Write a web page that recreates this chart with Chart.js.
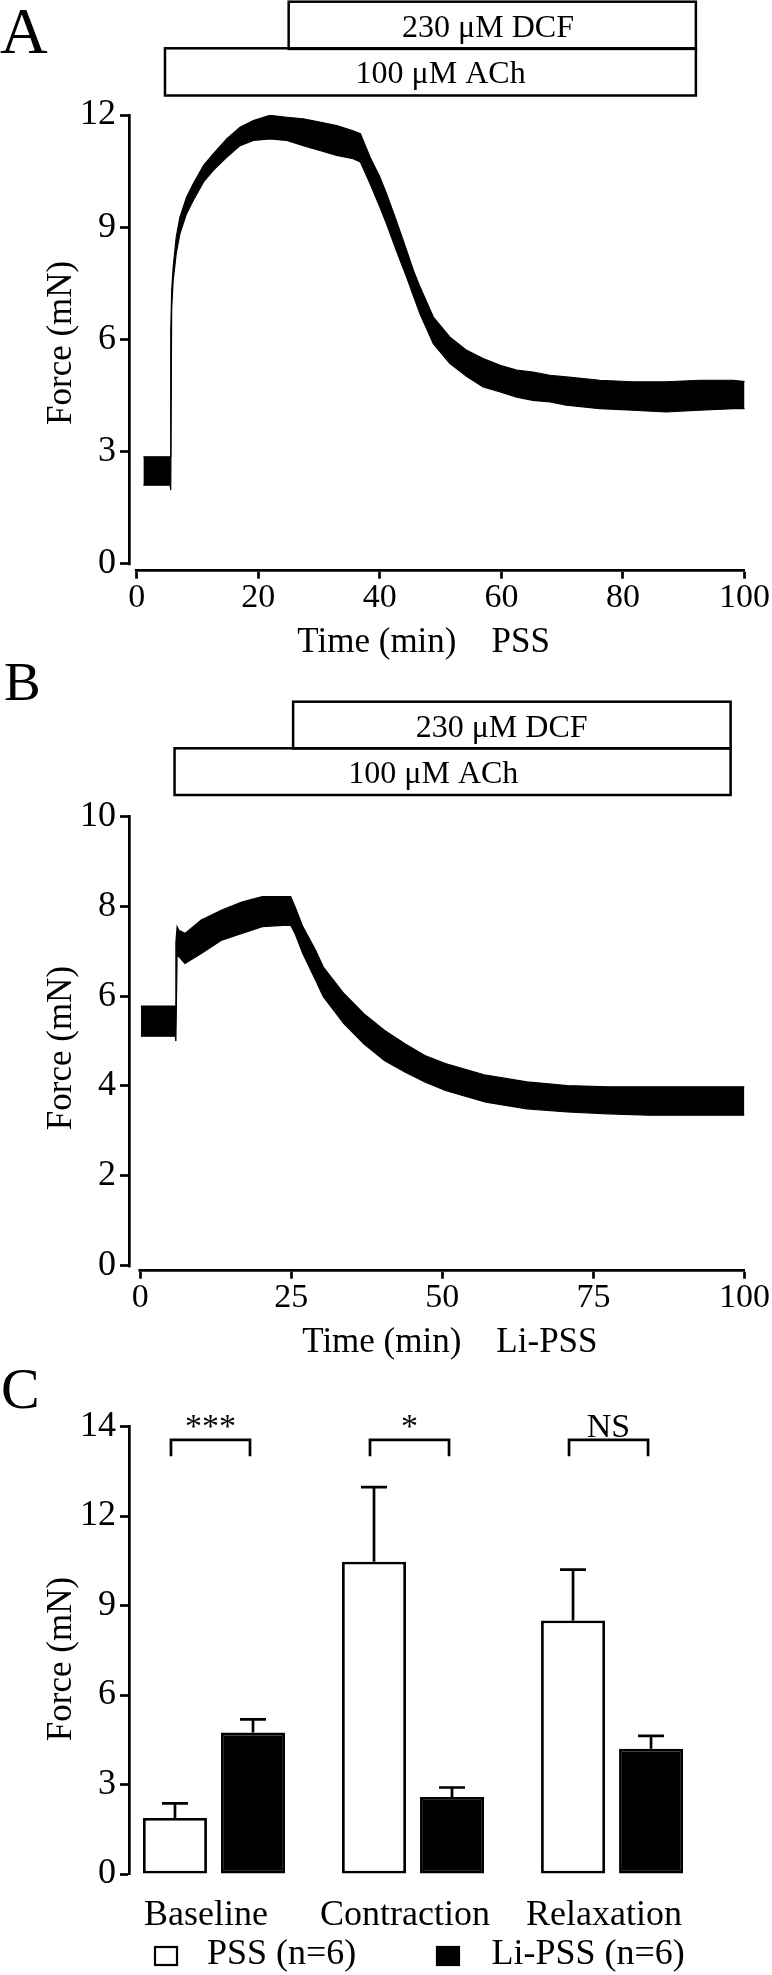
<!DOCTYPE html>
<html>
<head>
<meta charset="utf-8">
<script src="https://cdn.jsdelivr.net/npm/chart.js@4.4.1/dist/chart.umd.min.js"></script>
<style>
  body { margin: 0; background: #fff; width: 772px; height: 1975px; overflow: hidden; }
  .panel { position: absolute; left: 0; width: 772px; }
  #wrapA { top: 0; height: 660px; }
  #wrapB { top: 660px; height: 700px; }
  #wrapC { top: 1360px; height: 615px; }
</style>
</head>
<body>
<div class="panel" id="wrapA"><canvas id="chartA"></canvas></div>
<div class="panel" id="wrapB"><canvas id="chartB"></canvas></div>
<div class="panel" id="wrapC"><canvas id="chartC"></canvas></div>
<script>
'use strict';

// panel A, PSS trace (band: upper and lower edge)
var timeA  = [1.1, 5.5, 5.6, 5.75, 6.0, 6.5, 7.1, 8.2, 9.3, 11.0, 12.6, 14.8, 17.0, 19.2, 21.9, 24.7, 27.4, 30.1, 32.9, 35.6, 36.8, 38.4, 40.0, 41.1, 42.7, 44.4, 45.5, 46.6, 48.8, 51.5, 54.3, 57.0, 59.8, 62.5, 65.2, 68.0, 70.7, 76.2, 81.6, 87.1, 92.6, 98.1, 100.3]
var upperA = [2.85, 2.85, 6.2, 7.3, 7.93, 8.73, 9.26, 9.80, 10.16, 10.65, 10.96, 11.36, 11.67, 11.85, 11.99, 11.94, 11.90, 11.81, 11.72, 11.58, 11.50, 10.87, 10.34, 9.89, 9.18, 8.38, 7.85, 7.40, 6.59, 6.06, 5.70, 5.48, 5.30, 5.17, 5.12, 5.03, 4.99, 4.90, 4.86, 4.86, 4.90, 4.90, 4.86]
var lowerA = [2.09, 2.09, 1.96, 6.8, 7.57, 8.29, 8.82, 9.36, 9.71, 10.21, 10.52, 10.87, 11.18, 11.32, 11.36, 11.32, 11.18, 11.05, 10.92, 10.83, 10.74, 10.16, 9.54, 9.09, 8.38, 7.66, 7.17, 6.68, 5.88, 5.35, 5.00, 4.72, 4.59, 4.45, 4.36, 4.32, 4.23, 4.14, 4.10, 4.05, 4.10, 4.14, 4.14]
var xTicksA = [0, 20, 40, 60, 80, 100]
var yTicksA = [0, 3, 6, 9, 12]

// panel B, Li-PSS trace
var timeB  = [0.1, 5.8, 5.9, 6.1, 6.4, 7.4, 10.1, 13.5, 16.8, 20.2, 23.6, 24.9, 25.6, 26.9, 29.0, 30.3, 33.7, 37.0, 40.4, 43.8, 47.1, 50.5, 57.2, 64.0, 70.7, 77.4, 84.2, 90.9, 100]
var upperB = [5.78, 5.78, 7.2, 7.55, 7.47, 7.40, 7.70, 7.92, 8.10, 8.22, 8.22, 8.22, 8.00, 7.55, 7.03, 6.65, 6.06, 5.61, 5.24, 4.94, 4.68, 4.50, 4.24, 4.09, 4.01, 3.98, 3.98, 3.98, 3.98]
var lowerB = [5.11, 5.11, 5.0, 6.9, 6.88, 6.73, 6.95, 7.25, 7.40, 7.55, 7.58, 7.58, 7.40, 6.95, 6.36, 5.99, 5.39, 4.94, 4.57, 4.31, 4.09, 3.90, 3.64, 3.49, 3.42, 3.38, 3.35, 3.35, 3.35]
var xTicksB = [0, 25, 50, 75, 100]
var yTicksB = [0, 2, 4, 6, 8, 10]

// drug application bars (minutes)
var treatLabels = ['230 μM DCF', '100 μM ACh']
var treatStartA = [25.0, 4.65]
var treatEndA   = [92.0, 92.0]
var treatTextA  = [57.8, 50.0]
var treatStartB = [25.3, 5.68]
var treatEndB   = [97.7, 97.7]
var treatTextB  = [59.8, 48.5]

// panel C, summary bars
var categories = ['Baseline', 'Contraction', 'Relaxation']
var pssMean = [1.88, 10.47, 8.50]
var pssSem  = [0.49, 2.50, 1.70]
var liMean  = [4.74, 2.58, 4.20]
var liSem   = [0.44, 0.32, 0.43]
var sigLabels = ['***', '*', 'NS']
var yTicksC = [0, 3, 6, 9, 12, 15]
var yTickLabelsC = ['0', '3', '6', '9', '12', '14']

Chart.defaults.font.family = '"Liberation Serif", "Times New Roman", serif'
Chart.defaults.color = '#000'

var SERIF = '"Liberation Serif", "Times New Roman", serif'
var AXIS_W = 2.7

// panel letter + treatment boxes above the plot, and the gap between the two axes
var panelDecor = {
    id: 'panelDecor',
    afterDraw: function(chart, args, opts) {
        let ctx = chart.ctx
        let x = chart.scales.x
        let y = chart.scales.y
        let area = chart.chartArea
        ctx.save()

        // prism style: axes stop at their zero ticks
        ctx.fillStyle = '#fff'
        let gx = x.getPixelForValue(0) - AXIS_W / 2 - 0.5
        let gy = y.getPixelForValue(0) + AXIS_W / 2 + 0.5
        ctx.fillRect(area.left - AXIS_W, gy, gx - area.left + AXIS_W, area.bottom + AXIS_W - gy)

        ctx.fillStyle = '#000'
        ctx.font = opts.letterSize + 'px ' + SERIF
        ctx.textAlign = 'left'
        ctx.textBaseline = 'alphabetic'
        ctx.fillText(opts.letter, opts.letterX, opts.letterBase)

        ctx.strokeStyle = '#000'
        ctx.lineWidth = 2.5
        ctx.font = '32px ' + SERIF
        ctx.textAlign = 'center'
        for (let i = 0; i < treatLabels.length; i++) {
            let x1 = x.getPixelForValue(opts.start[i])
            let x2 = x.getPixelForValue(opts.end[i])
            let top = opts.rowTop[i]
            ctx.strokeRect(x1, top, x2 - x1, opts.rowH)
            ctx.fillText(treatLabels[i], x.getPixelForValue(opts.textAt[i]), top + 35)
        }
        ctx.restore()
    }
}

function traceConfig(time, lower, upper, xTicks, yTicks, xMin, yMin, yMax, xTitle, yTitle, decor, padRight, padTop) {
    return {
        type: 'line',
        data: {
            datasets: [
                {
                    data: time.map((t, i) => ({x: t, y: lower[i]})),
                    borderColor: '#000', borderWidth: 1.2, pointRadius: 0, fill: false, tension: 0
                },
                {
                    data: time.map((t, i) => ({x: t, y: upper[i]})),
                    borderColor: '#000', borderWidth: 1.2, pointRadius: 0, fill: '-1',
                    backgroundColor: '#000', tension: 0
                }
            ]
        },
        options: {
            responsive: true,
            maintainAspectRatio: false,
            animation: false,
            events: [],
            layout: {padding: {left: 0, right: padRight, top: padTop, bottom: 0}},
            plugins: {
                legend: {display: false},
                tooltip: {enabled: false},
                panelDecor: decor
            },
            scales: {
                x: {
                    type: 'linear', min: xMin, max: 100,
                    afterBuildTicks: axis => { axis.ticks = xTicks.map(v => ({value: v})) },
                    afterFit: axis => { axis.height = 89.3 },
                    border: {color: '#000', width: AXIS_W},
                    grid: {drawOnChartArea: false, color: '#000', tickLength: 8, tickWidth: AXIS_W},
                    ticks: {font: {size: 34, lineHeight: 1}, padding: 2, maxRotation: 0},
                    title: {display: true, text: xTitle, font: {size: 35, lineHeight: 1}, padding: {top: 0, bottom: 0}}
                },
                y: {
                    type: 'linear', min: yMin, max: yMax,
                    afterBuildTicks: axis => { axis.ticks = yTicks.map(v => ({value: v})) },
                    afterFit: axis => { axis.width = 129 },
                    border: {color: '#000', width: AXIS_W},
                    grid: {drawOnChartArea: false, color: '#000', tickLength: 9, tickWidth: AXIS_W},
                    ticks: {font: {size: 36, lineHeight: 1}, padding: 4},
                    title: {display: true, text: yTitle, font: {size: 35, lineHeight: 1}, padding: {top: 44, bottom: 0}}
                }
            }
        },
        plugins: [panelDecor]
    }
}

new Chart(document.getElementById('chartA'), traceConfig(
    timeA, lowerA, upperA, xTicksA, yTicksA, -1.27, -0.198, 12,
    'Time (min)    PSS   ', 'Force (mN)',
    {letter: 'A', letterSize: 66, letterX: 0, letterBase: 53.3,
     start: treatStartA, end: treatEndA, textAt: treatTextA, rowTop: [1.7, 48.3], rowH: 47.2},
    26.3, 115))

new Chart(document.getElementById('chartB'), traceConfig(
    timeB, lowerB, upperB, xTicksB, yTicksB, -1.86, -0.116, 10,
    '   Time (min)    Li-PSS', 'Force (mN) ',
    {letter: 'B', letterSize: 55, letterX: 4, letterBase: 40,
     start: treatStartB, end: treatEndB, textAt: treatTextB, rowTop: [41.7, 88.3], rowH: 46.7},
    24.5, 156.7))

// error bars (one-sided, up) for panel C
var errorBars = {
    id: 'errorBars',
    afterDatasetsDraw: function(chart) {
        let ctx = chart.ctx
        let y = chart.scales.y
        let sems = [pssSem, liSem]
        ctx.save()
        ctx.strokeStyle = '#000'
        ctx.lineWidth = AXIS_W
        chart.data.datasets.forEach((ds, di) => {
            chart.getDatasetMeta(di).data.forEach((bar, i) => {
                let top = y.getPixelForValue(ds.data[i].y + sems[di][i])
                ctx.beginPath()
                ctx.moveTo(bar.x, bar.y)
                ctx.lineTo(bar.x, top)
                ctx.moveTo(bar.x - 13, top)
                ctx.lineTo(bar.x + 13, top)
                ctx.stroke()
            })
        })
        ctx.restore()
    }
}

// significance brackets over each pair
var sigBrackets = {
    id: 'sigBrackets',
    afterDatasetsDraw: function(chart) {
        let ctx = chart.ctx
        let y = chart.scales.y
        let a = chart.getDatasetMeta(0).data
        let b = chart.getDatasetMeta(1).data
        let yTop = y.getPixelForValue(14.55)
        let yLeg = y.getPixelForValue(14.0)
        ctx.save()
        ctx.strokeStyle = '#000'
        ctx.fillStyle = '#000'
        ctx.lineWidth = AXIS_W
        ctx.font = '34px ' + SERIF
        ctx.textAlign = 'center'
        ctx.textBaseline = 'alphabetic'
        for (let i = 0; i < sigLabels.length; i++) {
            let xl = a[i].x - 4
            let xr = b[i].x - 3
            ctx.beginPath()
            ctx.moveTo(xl, yLeg)
            ctx.lineTo(xl, yTop)
            ctx.lineTo(xr, yTop)
            ctx.lineTo(xr, yLeg)
            ctx.stroke()
            ctx.fillText(sigLabels[i], (xl + xr) / 2, yTop - 3)
        }
        ctx.restore()
    }
}

// legend row + panel letter for C
var barLegend = {
    id: 'barLegend',
    afterDraw: function(chart) {
        let ctx = chart.ctx
        let boxX = [155, 437]
        let textX = [207, 491.5]
        ctx.save()
        ctx.font = '58px ' + SERIF
        ctx.fillStyle = '#000'
        ctx.textBaseline = 'alphabetic'
        ctx.fillText('C', 1, 48)

        ctx.font = '36px ' + SERIF
        ctx.lineWidth = 2.2
        ctx.strokeStyle = '#000'
        chart.data.datasets.forEach((ds, i) => {
            ctx.fillStyle = ds.backgroundColor
            ctx.fillRect(boxX[i], 587, 22, 18)
            ctx.strokeRect(boxX[i], 587, 22, 18)
            ctx.fillStyle = '#000'
            ctx.fillText(ds.label, textX[i], 604)
        })
        ctx.restore()
    }
}

new Chart(document.getElementById('chartC'), {
    type: 'bar',
    data: {
        datasets: [
            {
                label: 'PSS (n=6)',
                data: pssMean.map((v, i) => ({x: i + 1, y: v})),
                backgroundColor: '#fff', borderColor: '#000', borderWidth: 2.8, borderSkipped: false,
                categoryPercentage: 0.784, barPercentage: 0.82
            },
            {
                label: 'Li-PSS (n=6)',
                data: liMean.map((v, i) => ({x: i + 1, y: v})),
                backgroundColor: '#000', borderColor: '#000', borderWidth: 2.8, borderSkipped: false,
                categoryPercentage: 0.784, barPercentage: 0.82
            }
        ]
    },
    options: {
        responsive: true,
        maintainAspectRatio: false,
        animation: false,
        events: [],
        layout: {padding: {left: 0, right: 70, top: 66.5, bottom: 0}},
        plugins: {legend: {display: false}, tooltip: {enabled: false}},
        scales: {
            x: {
                type: 'linear', min: 0.573, max: 3.452, offset: false,
                afterBuildTicks: axis => { axis.ticks = categories.map((c, i) => ({value: i + 1})) },
                afterFit: axis => { axis.height = 101 },
                border: {display: false},
                grid: {display: false, drawTicks: false, offset: false},
                ticks: {
                    callback: (v, i) => categories[i],
                    font: {size: 36, lineHeight: 1}, padding: 23.6, labelOffset: -8, maxRotation: 0
                }
            },
            y: {
                type: 'linear', min: 0, max: 15,
                afterBuildTicks: axis => { axis.ticks = yTicksC.map(v => ({value: v})) },
                afterFit: axis => { axis.width = 129 },
                border: {color: '#000', width: AXIS_W},
                grid: {drawOnChartArea: false, color: '#000', tickLength: 9, tickWidth: AXIS_W},
                ticks: {callback: (v, i) => yTickLabelsC[i], font: {size: 36, lineHeight: 1}, padding: 4},
                title: {display: true, text: 'Force (mN)  ', font: {size: 35, lineHeight: 1}, padding: {top: 44, bottom: 0}}
            }
        }
    },
    plugins: [errorBars, sigBrackets, barLegend]
})
</script>
</body>
</html>
